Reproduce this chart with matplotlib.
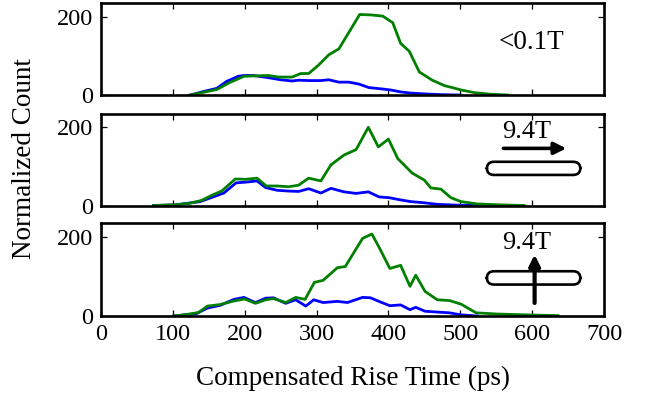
import matplotlib
matplotlib.use("Agg")
import matplotlib.pyplot as plt
from matplotlib.patches import FancyBboxPatch

plt.rcParams['font.family'] = ['Liberation Serif', 'DejaVu Serif']
plt.rcParams['font.size'] = 17.5

# ---- data ----
# panel 1 : <0.1T
t1_blue = [124, 147, 161, 175, 191, 199, 212, 231, 250, 266, 275, 289, 306, 317, 331, 345,
           359, 373, 389, 403, 417, 431, 450, 473, 500]
n1_blue = [0, 11, 17, 35, 48, 50, 50, 45, 39, 36, 38, 37, 37, 39, 33, 33,
           28, 19, 16, 13, 8, 5, 3, 1, 0]
t1_green = [124, 161, 178, 199, 233, 247, 266, 278, 289, 303, 317, 331, 360, 375, 392, 406,
            417, 429, 443, 461, 478, 489, 501, 520, 543, 566]
n1_green = [0, 14, 31, 48, 50, 46, 46, 55, 55, 77, 103, 118, 206, 205, 202, 185,
            132, 112, 59, 38, 24, 19, 13, 6, 2, 0]

# panel 2 : 9.4T parallel
t2_blue = [73, 105, 138, 171, 188, 203, 217, 229, 245, 261, 275, 289, 306, 320, 338, 355,
           372, 387, 401, 415, 431, 450, 468, 496, 524]
n2_blue = [0, 2, 10, 32, 58, 60, 63, 46, 39, 37, 36, 43, 32, 44, 35, 31,
           35, 22, 20, 15, 10, 7, 3, 1, 0]
t2_green = [73, 105, 124, 140, 154, 168, 187, 201, 217, 230, 245, 261, 275, 289, 306, 320,
            338, 355, 372, 386, 400, 413, 433, 450, 459, 473, 487, 501, 524, 552, 589]
n2_green = [0, 2, 6, 13, 26, 37, 68, 67, 70, 50, 50, 48, 52, 70, 63, 104,
            129, 143, 200, 150, 170, 120, 83, 65, 45, 42, 20, 10, 4, 2, 0]

# panel 3 : 9.4T perpendicular
t3_blue = [101, 133, 148, 166, 185, 199, 215, 229, 240, 257, 271, 285, 296, 309, 329, 343,
           364, 375, 388, 402, 417, 430, 438, 451, 485, 501, 524]
n3_blue = [0, 6, 20, 27, 42, 47, 34, 45, 46, 32, 41, 25, 41, 34, 37, 34,
           47, 46, 36, 26, 28, 16, 22, 12, 8, 3, 0]
t3_green = [101, 120, 136, 148, 166, 185, 200, 215, 229, 240, 257, 271, 284, 297, 309, 329,
            340, 364, 377, 388, 402, 417, 430, 438, 451, 468, 485, 501, 522, 552, 589, 636]
n3_green = [0, 4, 9, 25, 29, 38, 43, 32, 41, 44, 34, 47, 42, 85, 90, 122,
            125, 196, 207, 170, 120, 128, 75, 103, 62, 41, 39, 30, 8, 5, 3, 1]

panels = [(t1_blue, n1_blue, t1_green, n1_green),
          (t2_blue, n2_blue, t2_green, n2_green),
          (t3_blue, n3_blue, t3_green, n3_green)]

BLUE = "#0000ff"
GREEN = "#008000"

fig = plt.figure(figsize=(6.49, 3.96), dpi=100)
left, right = 0.1556, 0.9307
boxes = [(0.760, 0.992), (0.481, 0.713), (0.202, 0.437)]
axes = []
for (b, t) in boxes:
    axes.append(fig.add_axes([left, b, right - left, t - b]))

for i, (ax, (tb, nb, tg, ng)) in enumerate(zip(axes, panels)):
    ax.plot(tb, nb, color=BLUE, lw=2.0)
    ax.plot(tg, ng, color=GREEN, lw=2.0)
    ax.set_xlim(0, 700)
    ax.set_ylim(0, 235)
    ax.set_xticks(range(0, 701, 100))
    ax.set_yticks([0, 200])
    ax.tick_params(direction="in", top=True, right=True, length=4.5, width=0.9, pad=6)
    for s in ax.spines.values():
        s.set_linewidth(1.9)
    if i < 2:
        ax.set_xticklabels([])

# panel annotations
axes[0].text(0.855, 0.57, "<0.1T", transform=axes[0].transAxes,
             ha="center", va="center", fontsize=19.5)

ar = 503 / 92.0
for ax, ytxt, ys in [(axes[1], 0.80, 0.333), (axes[2], 0.78, 0.338)]:
    ax.text(0.847, ytxt, "9.4T", transform=ax.transAxes,
            ha="center", va="center", fontsize=19)
    ax.add_patch(FancyBboxPatch((0.767, ys), 0.186, 0.143,
                                boxstyle="round,pad=0,rounding_size=0.0142",
                                mutation_aspect=ar, transform=ax.transAxes,
                                fc="none", ec="black", lw=1.9, clip_on=False))

axes[1].annotate("", xy=(0.925, 0.622), xytext=(0.80, 0.622),
                 xycoords="axes fraction",
                 arrowprops=dict(arrowstyle="-|>", lw=2.6, color="black",
                                 mutation_scale=18, shrinkA=0, shrinkB=0))
axes[2].annotate("", xy=(0.862, 0.66), xytext=(0.862, 0.14),
                 xycoords="axes fraction",
                 arrowprops=dict(arrowstyle="-|>", lw=3.0, color="black",
                                 mutation_scale=16, shrinkA=0, shrinkB=0))

axes[2].set_xlabel("Compensated Rise Time (ps)", labelpad=15, fontsize=19.5)
fig.text(0.038, 0.6, "Normalized Count", rotation=90, ha="center", va="center",
         fontsize=19.5)

fig.savefig("out.png", dpi=100)
